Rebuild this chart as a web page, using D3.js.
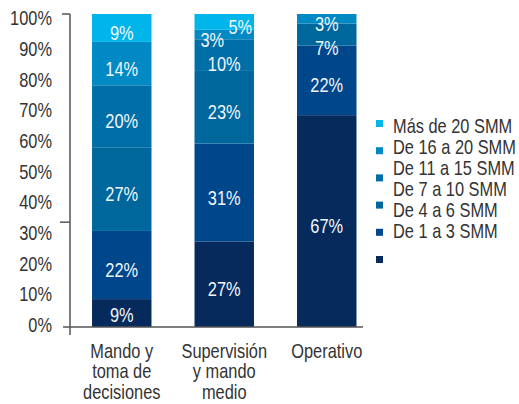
<html>
<head>
    <script src="https://cdn.jsdelivr.net/npm/d3@7"></script>
    <style>
        body { margin: 0; background: white; }
        svg { display: block; }
        text { font-family: "Liberation Sans", Arial, sans-serif; font-size: 20px; }
    </style>
</head>
<body>
<svg id="chart" width="519" height="404"></svg>
<script>
    // categories (x axis), each label split into lines
    const categories = ["Mando y toma de decisiones", "Supervisión y mando medio", "Operativo"];
    const categoryLines = [["Mando y", "toma de", "decisiones"], ["Supervisión", "y mando", "medio"], ["Operativo"]];

    // series, bottom of the stack first
    const seriesKeys = ["s1", "s2", "s3", "s4", "s5", "s6"];
    const seriesColors = ["#062a5c", "#00468a", "#00679d", "#006fa7", "#0089c2", "#00b5ea"];
    const s1 = [9, 27, 67];
    const s2 = [22, 31, 22];
    const s3 = [27, 23, 7];
    const s4 = [20, 10, 0];
    const s5 = [14, 3, 3];
    const s6 = [9, 5, 0];

    // legend, top to bottom (as printed in the original)
    const legendLabels = ["Más de 20 SMM", "De 16 a 20 SMM", "De 11 a 15 SMM", "De 7 a 10 SMM", "De 4 a 6 SMM", "De 1 a 3 SMM"];

    const tickValues = [0, .1, .2, .3, .4, .5, .6, .7, .8, .9, 1];

    // no narrow font installed, so squeeze a regular one
    const sx = 0.82;
    function squeeze(x, y) { return "translate(" + x + "," + y + ") scale(" + sx + ",1)"; }

    const svg = d3.select("#chart");
    const allSeries = [s1, s2, s3, s4, s5, s6];

    let rows = categories.map((c, i) => {
        let r = {cat: c};
        seriesKeys.forEach((k, j) => r[k] = allSeries[j][i]);
        return r;
    });

    let stacked = d3.stack().keys(seriesKeys).offset(d3.stackOffsetExpand)(rows);

    let x = d3.scaleBand().domain(categories).range([70.5, 378]).paddingInner(0.42).paddingOuter(0.21);
    let y = d3.scaleLinear().domain([0, 1]).range([327, 14]);
    let yLab = d3.scaleLinear().domain([0, 1]).range([325, 18.5]);
    let color = d3.scaleOrdinal().domain(seriesKeys).range(seriesColors);

    // bars
    let layers = svg.append("g").selectAll("g")
        .data(stacked)
        .enter().append("g")
        .attr("fill", d => color(d.key));

    layers.selectAll("rect")
        .data(d => d)
        .enter().append("rect")
        .attr("x", d => x(d.data.cat))
        .attr("width", x.bandwidth())
        .attr("y", d => y(d[1]))
        .attr("height", d => y(d[0]) - y(d[1]));

    // value labels, worked out per bar from the top down
    let labels = [];
    categories.forEach((c, ci) => {
        let lastY = -100;
        for (let li = stacked.length - 1; li >= 0; li--) {
            let v = allSeries[li][ci];
            if (!v) continue;
            let d = stacked[li][ci];
            let ly = Math.min((y(d[0]) + y(d[1])) / 2 + 5, y(0) - 12);
            let dx = 0;
            // two thin segments next to each other: put them side by side
            let above = li < stacked.length - 1 ? allSeries[li + 1][ci] : 0;
            let below = li > 0 ? allSeries[li - 1][ci] : 0;
            if (v < 6 && above && above < 6) dx = -12;
            else if (v < 6 && below && below < 6) dx = 16;
            if (dx <= 0) {
                ly = Math.max(ly, lastY + 24);
                lastY = ly;
            }
            labels.push({x: x(c) + x.bandwidth() / 2 + dx, y: ly, t: v + "%"});
        }
    });

    svg.append("g").selectAll("text")
        .data(labels)
        .enter().append("text")
        .attr("transform", d => squeeze(d.x, d.y))
        .attr("dy", ".35em")
        .attr("text-anchor", "middle")
        .attr("fill", "#f2f6fa")
        .text(d => d.t);

    // y axis labels
    let yAxis = d3.axisLeft(yLab).tickValues(tickValues).tickFormat(d3.format(".0%")).tickSize(0).tickPadding(18 / sx);
    let ya = svg.append("g").attr("transform", "translate(70,0)").call(yAxis);
    ya.select(".domain").remove();
    ya.selectAll("text")
        .style("font-size", "20px")
        .style("font-family", "'Liberation Sans', Arial, sans-serif")
        .attr("fill", "#333")
        .attr("transform", "scale(" + sx + ",1)");

    // axis lines
    let axisCol = "#555";
    svg.append("line").attr("x1", 70).attr("x2", 70).attr("y1", y(1)).attr("y2", y(0) + 8)
        .attr("stroke", axisCol).attr("stroke-width", 1.5);
    svg.append("line").attr("x1", 62).attr("x2", 70).attr("y1", y(1)).attr("y2", y(1))
        .attr("stroke", axisCol).attr("stroke-width", 1.5);
    svg.append("line").attr("x1", 60).attr("x2", 70).attr("y1", y(0.335)).attr("y2", y(0.335))
        .attr("stroke", axisCol).attr("stroke-width", 1.5);
    svg.append("line").attr("x1", 63).attr("x2", 363).attr("y1", y(0)).attr("y2", y(0))
        .attr("stroke", axisCol).attr("stroke-width", 1.5);

    // category labels
    let cl = svg.append("g").selectAll("text")
        .data(categories)
        .enter().append("text")
        .attr("text-anchor", "middle")
        .attr("fill", "#333")
        .attr("transform", d => squeeze(x(d) + x.bandwidth() / 2, 358));
    cl.selectAll("tspan")
        .data((d, i) => categoryLines[i])
        .enter().append("tspan")
        .attr("x", 0)
        .attr("y", (d, i) => i * 20.5)
        .text(d => d);

    // legend: markers and texts are spaced differently in the original
    let legendKeys = seriesKeys.slice().reverse();
    svg.append("g").selectAll("rect")
        .data(legendKeys)
        .enter().append("rect")
        .attr("x", 376)
        .attr("y", (d, i) => 120 + i * 27.2)
        .attr("width", 7)
        .attr("height", 7)
        .attr("fill", d => color(d));

    svg.append("g").selectAll("text")
        .data(legendLabels)
        .enter().append("text")
        .attr("transform", (d, i) => squeeze(393, 126 + i * 21))
        .attr("dy", ".35em")
        .attr("fill", "#333")
        .text(d => d);
</script>
</body>
</html>
